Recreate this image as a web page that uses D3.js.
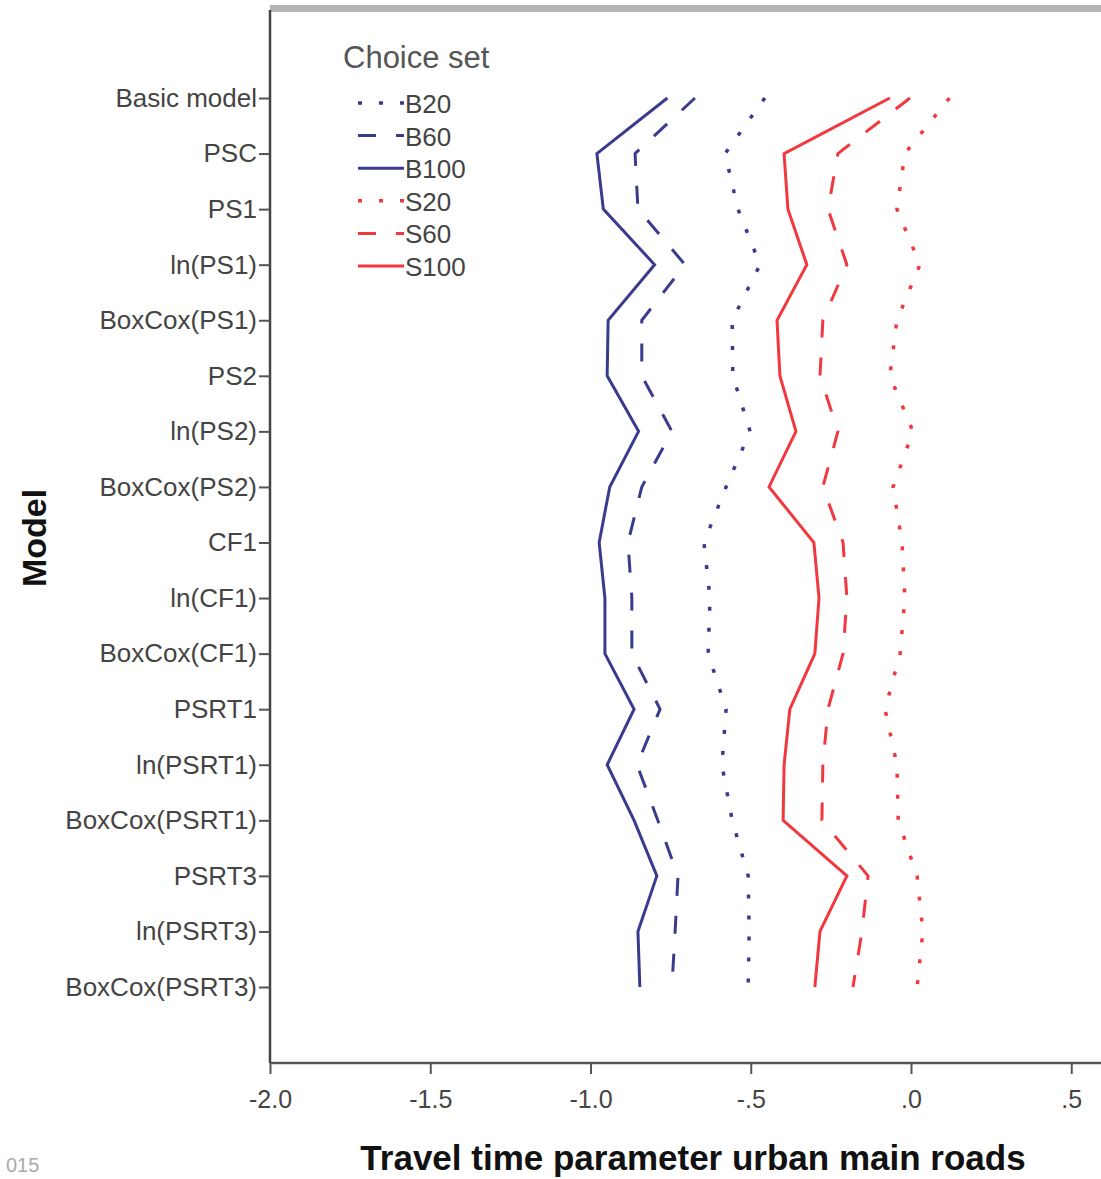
<!DOCTYPE html>
<html>
<head>
<meta charset="utf-8">
<script src="https://cdn.jsdelivr.net/npm/d3@7"></script>
<style>
  html, body { margin: 0; padding: 0; background: #fff; overflow: hidden; }
  svg { display: block; font-family: "Liberation Sans", Arial, sans-serif; }
</style>
</head>
<body>
<svg width="1101" height="1179"></svg>
<script>
// Models on the y axis, top to bottom
const models = ["Basic model", "PSC", "PS1", "ln(PS1)", "BoxCox(PS1)", "PS2", "ln(PS2)",
  "BoxCox(PS2)", "CF1", "ln(CF1)", "BoxCox(CF1)", "PSRT1", "ln(PSRT1)",
  "BoxCox(PSRT1)", "PSRT3", "ln(PSRT3)", "BoxCox(PSRT3)"];

// Travel time parameter per choice set
const b20 = [-0.456, -0.58, -0.54, -0.471, -0.558, -0.556, -0.502, -0.577, -0.646, -0.627, -0.633, -0.577, -0.59, -0.558, -0.508, -0.505, -0.508];
const b60 = [-0.674, -0.861, -0.852, -0.705, -0.84, -0.84, -0.746, -0.84, -0.883, -0.871, -0.871, -0.783, -0.855, -0.79, -0.727, -0.736, -0.746];
const b100 = [-0.76, -0.98, -0.96, -0.8, -0.945, -0.948, -0.85, -0.94, -0.973, -0.955, -0.955, -0.864, -0.948, -0.864, -0.793, -0.852, -0.846];
const s20 = [0.12, -0.019, -0.044, 0.028, -0.044, -0.066, 0.006, -0.056, -0.028, -0.019, -0.034, -0.081, -0.044, -0.04, 0.019, 0.037, 0.019];
const s60 = [-0.003, -0.228, -0.259, -0.2, -0.275, -0.284, -0.228, -0.275, -0.212, -0.2, -0.212, -0.259, -0.275, -0.278, -0.134, -0.153, -0.181];
const s100 = [-0.066, -0.396, -0.384, -0.325, -0.418, -0.409, -0.359, -0.443, -0.303, -0.287, -0.3, -0.378, -0.396, -0.399, -0.2, -0.284, -0.3];

const seriesNames = ["B20", "B60", "B100", "S20", "S60", "S100"];
const xTicks = [-2.0, -1.5, -1.0, -0.5, 0.0, 0.5];
const xTickLabels = ["-2.0", "-1.5", "-1.0", "-.5", ".0", ".5"];

const blue = "#3b3b8e", red = "#f2383f";
const styles = {
  B20: { color: blue, dash: "4,17" },
  B60: { color: blue, dash: "18,20" },
  B100: { color: blue, dash: null },
  S20: { color: red, dash: "4,17" },
  S60: { color: red, dash: "18,20" },
  S100: { color: red, dash: null }
};
const values = { B20: b20, B60: b60, B100: b100, S20: s20, S60: s60, S100: s100 };

const svg = d3.select("svg");
const left = 270, bottom = 1063;

const x = d3.scaleLinear().domain([-2, 0.6]).range([left, left + 2.6 * 320.5]);
const y = d3.scalePoint().domain(models).range([98, 987]);

// top frame band
svg.append("line")
  .attr("x1", left).attr("x2", 1101)
  .attr("y1", 8.5).attr("y2", 8.5)
  .attr("stroke", "#b4b4b4").attr("stroke-width", 7);

// X axis
const xAxis = svg.append("g")
  .attr("transform", `translate(0,${bottom})`)
  .call(d3.axisBottom(x).tickValues(xTicks)
    .tickFormat((d, i) => xTickLabels[i]).tickSizeInner(11).tickSizeOuter(0).tickPadding(16));
xAxis.select(".domain").attr("stroke", "#555").attr("stroke-width", 2.5)
  .attr("d", `M${left},0H1101`);
xAxis.selectAll(".tick line").attr("stroke", "#555").attr("stroke-width", 2);
xAxis.selectAll(".tick text").attr("fill", "#444").style("font-size", "25px");

// Y axis
const yAxis = svg.append("g")
  .attr("transform", `translate(${left},0)`)
  .call(d3.axisLeft(y).tickSizeInner(11).tickSizeOuter(0).tickPadding(2));
yAxis.select(".domain").attr("stroke", "#444").attr("stroke-width", 2.5)
  .attr("d", `M0,10V${bottom}`);
yAxis.selectAll(".tick line").attr("stroke", "#555").attr("stroke-width", 2);
yAxis.selectAll(".tick text").attr("fill", "#444").style("font-size", "26px");

// Lines
const line = d3.line()
  .x(d => x(d.v))
  .y(d => y(d.m));

seriesNames.forEach(name => {
  const pts = models.map((m, i) => ({ m: m, v: values[name][i] }));
  svg.append("path")
    .datum(pts)
    .attr("fill", "none")
    .attr("stroke", styles[name].color)
    .attr("stroke-width", styles[name].dash === "4,17" ? 3.5 : 3)
    .attr("stroke-dasharray", styles[name].dash)
    .attr("d", line);
});

// Legend
const legend = svg.append("g").attr("transform", "translate(343,0)");
legend.append("text")
  .attr("x", 0).attr("y", 68)
  .attr("fill", "#555")
  .style("font-size", "31px")
  .text("Choice set");

const legendY = d3.scalePoint().domain(seriesNames).range([103, 266]);
seriesNames.forEach(name => {
  const ly = legendY(name);
  legend.append("line")
    .attr("x1", 15).attr("x2", 61)
    .attr("y1", ly).attr("y2", ly)
    .attr("stroke", styles[name].color)
    .attr("stroke-width", styles[name].dash === "4,17" ? 3.5 : 3)
    .attr("stroke-dasharray", styles[name].dash);
  legend.append("text")
    .attr("x", 62).attr("y", ly + 10)
    .attr("fill", "#444")
    .style("font-size", "26px")
    .text(name);
});

// Axis titles
svg.append("text")
  .attr("x", 693).attr("y", 1170)
  .attr("text-anchor", "middle")
  .attr("fill", "#111")
  .style("font-size", "35px")
  .style("font-weight", "bold")
  .text("Travel time parameter urban main roads");

svg.append("text")
  .attr("transform", "translate(46,538) rotate(-90)")
  .attr("text-anchor", "middle")
  .attr("fill", "#111")
  .style("font-size", "34px")
  .style("font-weight", "bold")
  .text("Model");

svg.append("text")
  .attr("x", 6).attr("y", 1172)
  .attr("fill", "#aaa")
  .style("font-size", "20px")
  .text("015");
</script>
</body>
</html>
